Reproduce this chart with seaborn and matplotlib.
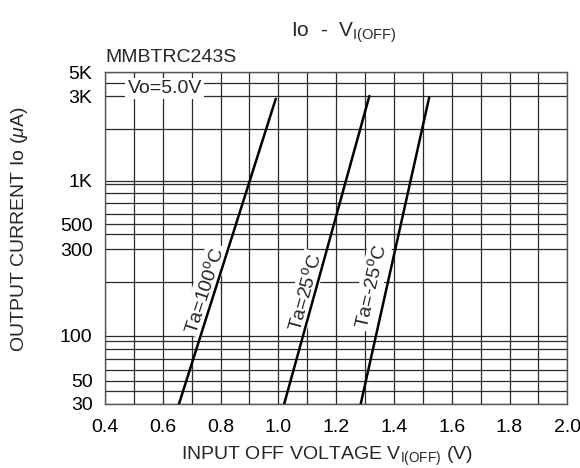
import numpy as np
import pandas as pd
import matplotlib
matplotlib.use("Agg")
import matplotlib.pyplot as plt
from matplotlib.ticker import NullFormatter
import seaborn as sns

# ---------------- data ----------------
temps = ["Ta=100", "Ta=25", "Ta=-25"]
v_100 = [0.656, 0.991]
i_100 = [30, 2900]
v_25 = [1.020, 1.315]
i_25 = [30, 3000]
v_m25 = [1.285, 1.522]
i_m25 = [30, 2950]

x_major = [0.4, 0.6, 0.8, 1.0, 1.2, 1.4, 1.6, 1.8, 2.0]
x_major_labels = ["0.4", "0.6", "0.8", "1.0", "1.2", "1.4", "1.6", "1.8", "2.0"]
x_minor = [0.5, 0.7, 0.9, 1.1, 1.3, 1.5, 1.7, 1.9]
y_major = [30, 50, 100, 300, 500, 1000, 3000, 5000]
y_major_labels = ["30", "50", "100", "300", "500", "1K", "3K", "5K"]
y_minor = [40, 60, 70, 80, 90, 200, 400, 600, 700, 800, 900, 2000, 4000]

# calibration of the (non-standard) chart-paper y axis, measured from its grid
scale_vals = [30, 40, 50, 60, 70, 80, 90, 100, 200, 300, 400, 500, 600, 700,
              800, 900, 1000, 2000, 3000, 4000, 5000]
scale_pos = [0, 13, 23.3, 34, 44.7, 54.7, 63, 68.3, 122.3, 155, 170, 180, 190,
             200.7, 211.3, 219.7, 223.3, 274.7, 308, 321.3, 331.7]

LV = np.log10(np.array(scale_vals, float))
P = np.array(scale_pos, float)


def fwd(v):
    lv = np.log10(np.clip(np.asarray(v, float), 1e-12, None))
    out = np.interp(lv, LV, P)
    out = np.where(lv < LV[0], P[0] + (lv - LV[0]) * (P[1] - P[0]) / (LV[1] - LV[0]), out)
    out = np.where(lv > LV[-1], P[-1] + (lv - LV[-1]) * (P[-1] - P[-2]) / (LV[-1] - LV[-2]), out)
    return out


def inv(p):
    p = np.asarray(p, float)
    lv = np.interp(p, P, LV)
    lv = np.where(p < P[0], LV[0] + (p - P[0]) * (LV[1] - LV[0]) / (P[1] - P[0]), lv)
    lv = np.where(p > P[-1], LV[-1] + (p - P[-1]) * (LV[-1] - LV[-2]) / (P[-1] - P[-2]), lv)
    return 10 ** lv


df = pd.DataFrame({
    "V": v_100 + v_25 + v_m25,
    "I": i_100 + i_25 + i_m25,
    "Ta": [temps[0]] * len(v_100) + [temps[1]] * len(v_25) + [temps[2]] * len(v_m25),
})

# ---------------- style ----------------
sns.set_theme(style="white")
plt.rcParams["font.family"] = ["Liberation Sans", "DejaVu Sans"]
plt.rcParams["mathtext.fontset"] = "custom"
plt.rcParams["mathtext.rm"] = "Liberation Sans"
plt.rcParams["mathtext.it"] = "Liberation Sans:italic"
plt.rcParams["mathtext.bf"] = "Liberation Sans:bold"

W, H = 580, 468
fig = plt.figure(figsize=(W / 100, H / 100), dpi=100)
ax = fig.add_axes([105 / W, 1 - 404 / H, 462.3 / W, 331.7 / H])

sns.lineplot(data=df, x="V", y="I", hue="Ta", palette=["black"] * 3,
             estimator=None, sort=False, legend=False, lw=1.8, ax=ax, zorder=3)

ax.set_yscale("function", functions=(fwd, inv))
ax.set_xlim(0.4, 2.0)
ax.set_ylim(30, 5000)
ax.set_xticks(x_major, x_major_labels)
ax.set_xticks(x_minor, minor=True)
ax.set_yticks(y_major, y_major_labels)
ax.set_yticks(y_minor, minor=True)
ax.yaxis.set_minor_formatter(NullFormatter())
ax.xaxis.set_minor_formatter(NullFormatter())
ax.tick_params(which="both", length=0, labelsize=14, colors="black")
ax.tick_params(axis="x", pad=11)
ax.tick_params(axis="y", pad=9)
ax.set_axisbelow(True)
ax.grid(True, which="both", color="#2a2a2a", lw=0.9)
for s in ax.spines.values():
    s.set_color("#555555")
    s.set_linewidth(1.0)

ax.set_xlabel("")
ax.set_ylabel("")

box = dict(facecolor="white", edgecolor="none", pad=1.5)
ax.text(0.129, 0.951, "Vo=5.0V", transform=ax.transAxes, fontsize=14,
        ha="center", va="center", bbox=box, zorder=1.5)

ax.text(0.743, 180, "Ta=100$^{\\mathrm{o}}$C", fontsize=14, rotation=72,
        ha="center", va="center", rotation_mode="anchor", bbox=box, zorder=1.5)
ax.text(1.092, 175, "Ta=25$^{\\mathrm{o}}$C", fontsize=14, rotation=74.5,
        ha="center", va="center", rotation_mode="anchor", bbox=box, zorder=1.5)
ax.text(1.320, 189, "Ta=-25$^{\\mathrm{o}}$C", fontsize=14, rotation=77,
        ha="center", va="center", rotation_mode="anchor", bbox=box, zorder=1.5)

fig.text(105 / W, 1 - 62.5 / H, "MMBTRC243S", fontsize=14, ha="left", va="baseline")
fig.text(344 / W, 1 - 36.7 / H, "Io  -  V$_{\\mathrm{I(OFF)}}$", fontsize=15,
         ha="center", va="baseline")
fig.text(327 / W, 1 - 460 / H, "INPUT OFF VOLTAGE V$_{\\mathrm{I(OFF)}}$ (V)",
         fontsize=14, ha="center", va="baseline")
fig.text(20 / W, 1 - 229 / H, "OUTPUT CURRENT Io ($\\mu$A)", fontsize=14,
         rotation=90, ha="center", va="center")

fig.savefig("out.png", dpi=100)
